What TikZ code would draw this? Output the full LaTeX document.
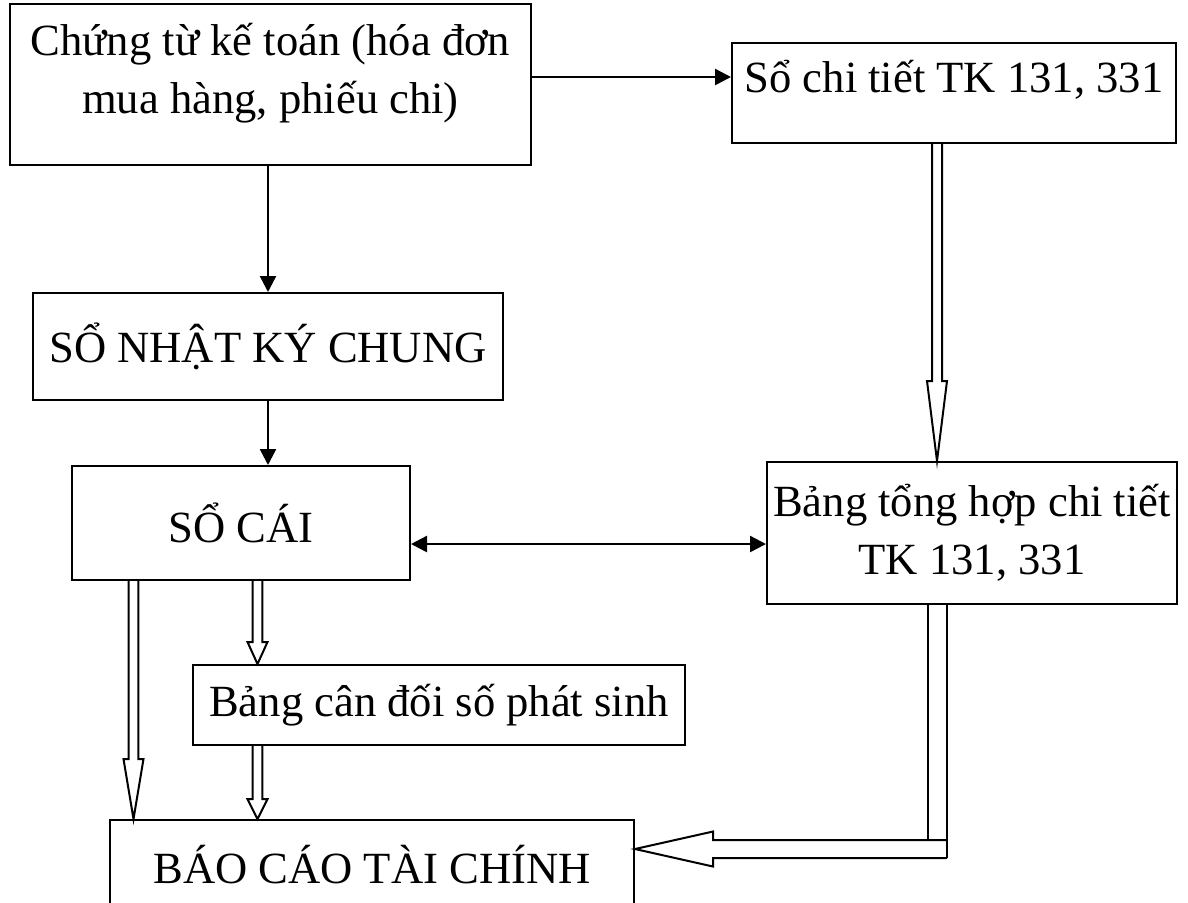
\documentclass[tikz,border=0pt]{standalone}
\usepackage{fontspec}
\setmainfont{Liberation Serif}
\usetikzlibrary{arrows.meta, calc}

% hollow block arrow: start, end, shaft half width, head half width, head length
\newcommand{\blockarrow}[5]{%
  \coordinate (ba-hb) at ($(#2)!#5!(#1)$);
  \draw[line width=1pt] ($(#1)!#3!90:(#2)$) -- ($(ba-hb)!#3!90:(#2)$)
    -- ($(ba-hb)!#4!90:(#2)$) -- (#2) -- ($(ba-hb)!#4!-90:(#2)$)
    -- ($(ba-hb)!#3!-90:(#2)$) -- ($(#1)!#3!-90:(#2)$);
}

\begin{document}
\begin{tikzpicture}[x=0.5pt, y=-0.5pt,
    box/.style={draw, line width=1pt, align=center, inner sep=0pt, font=\fontsize{22.3}{28.8}\selectfont},
    >={Triangle[length=8pt, width=8pt]},
    arrow/.style={->, line width=1.2pt}
]
\useasboundingbox (0,0) rectangle (1188,902);

\node[box, minimum width=260.5pt, minimum height=80.5pt, text depth=16pt] (chungtu) at (270.5,84.5) {Chứng từ kế toán (hóa đơn\\mua hàng, phiếu chi)};
\node[box, minimum width=222pt, minimum height=50pt, text depth=17pt] (chitiet) at (954,93) {Sổ chi tiết TK 131, 331};
\node[box, minimum width=235pt, minimum height=53.5pt] (nkc) at (268,346.5) {SỔ NHẬT KÝ CHUNG};
\node[box, minimum width=169pt, minimum height=57pt] (socai) at (241,523) {SỔ CÁI};
\node[box, minimum width=205pt, minimum height=71pt] (tonghop) at (972,533) {Bảng tổng hợp chi tiết\\TK 131, 331};
\node[box, minimum width=246pt, minimum height=40pt] (cando) at (439,705) {Bảng cân đối số phát sinh};
\node[box, minimum width=262pt, minimum height=45pt] (baocao) at (372,865) {BÁO CÁO TÀI CHÍNH};

% single arrows
\coordinate (c1) at ($(chungtu.east)+(0,-7.5)$);
\draw[arrow] (c1) -- (c1 -| chitiet.west);
\draw[arrow] (chungtu.south -| nkc.north) -- (nkc.north);
\draw[arrow] (nkc.south) -- (nkc.south |- socai.north);
\coordinate (c2) at ($(socai.east)+(0,21)$);
\draw[arrow, <->] (c2) -- (c2 -| tonghop.west);

% hollow arrows
\coordinate (h1) at ($(chitiet.south)+(-17,0)$);
\coordinate (h1e) at (h1 |- tonghop.north);
\blockarrow{h1}{h1e}{2.5pt}{5pt}{40pt}
\coordinate (h2) at ($(socai.south west)+(62.5,0)$);
\coordinate (h2e) at (h2 |- baocao.north);
\blockarrow{h2}{h2e}{2.4pt}{5pt}{30pt}
\coordinate (h3) at ($(socai.south west)+(186.5,0)$);
\coordinate (h3e) at (h3 |- cando.north);
\blockarrow{h3}{h3e}{2.4pt}{5pt}{11pt}
\coordinate (h4) at (h3 |- cando.south);
\coordinate (h4e) at (h3 |- baocao.north);
\blockarrow{h4}{h4e}{2.4pt}{5pt}{10pt}

% elbow from tonghop to baocao
\coordinate (e1) at ($(tonghop.south)+(-44,0)$);
\coordinate (e2) at ($(tonghop.south)+(-25,0)$);
\coordinate (elbow) at ($(e2)+(0,244)$);
\coordinate (tip) at (baocao.east |- elbow);
\draw[line width=1pt] (e1) -- ++(0,235);
\draw[line width=1pt] (e2) -- ++(0,253);
\blockarrow{elbow}{tip}{4.5pt}{8.75pt}{39pt}

\end{tikzpicture}
\end{document}
